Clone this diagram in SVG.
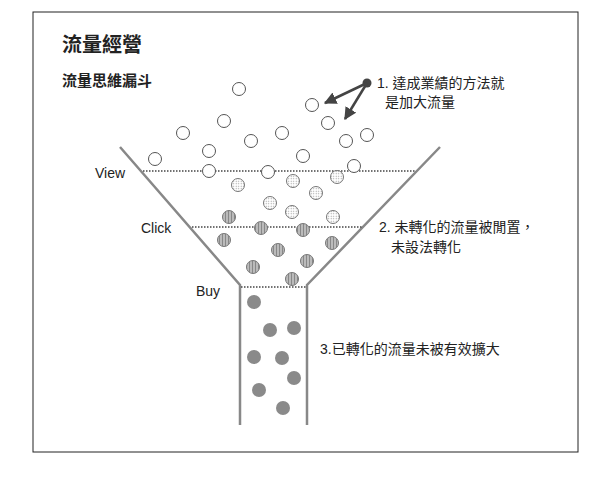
<svg xmlns="http://www.w3.org/2000/svg" width="612" height="486" viewBox="0 0 612 486">
<style>
text{font-family:"Liberation Sans","Noto Sans CJK TC",sans-serif;fill:#222}
.t{font-size:14px}
.f{fill:none;stroke:#888;stroke-width:2.5}
.d{stroke:#444;stroke-width:1.3;stroke-dasharray:1.5 1.5}
.w{fill:#fff;stroke:#555;stroke-width:1}
.p{fill:url(#dots);stroke:#777;stroke-width:1}
.s{fill:url(#str);stroke:#777;stroke-width:1}
.g{fill:#8a8a8a}
</style>
<defs>
<pattern id="dots" width="2.5" height="2.5" patternUnits="userSpaceOnUse"><rect width="2.5" height="2.5" fill="#fff"/><circle cx="1.2" cy="1.2" r="0.6" fill="#999"/></pattern>
<pattern id="str" width="3" height="3" patternUnits="userSpaceOnUse"><rect width="3" height="3" fill="#bbb"/><rect width="1" height="3" fill="#888"/></pattern>
<marker id="ar" viewBox="0 0 10 10" refX="9" refY="5" markerWidth="5" markerHeight="5" orient="auto"><path d="M0,0L10,5L0,10z" fill="#444"/></marker>
</defs>
<rect x="0" y="0" width="612" height="486" fill="#fff"/>
<rect x="33" y="12" width="545" height="440" fill="none" stroke="#222" stroke-width="1"/>
<text x="62" y="52" font-size="20" font-weight="bold">流量經營</text>
<text x="62" y="86" font-size="15" font-weight="bold">流量思維漏斗</text>
<g id="funnel">
<path class="f" d="M120,147L240,285L240,425M440,147L307,285L307,425"/>
<line class="d" x1="143" y1="171" x2="415" y2="171"/>
<line class="d" x1="192" y1="227" x2="362" y2="227"/>
<line class="d" x1="241" y1="287" x2="306" y2="287"/>
</g>
<g id="labels" class="t">
<text x="95" y="178">View</text>
<text x="141" y="233">Click</text>
<text x="196" y="296">Buy</text>
</g>
<g id="white">
<circle class="w" r="6.5" cx="239" cy="89"/><circle class="w" r="6.5" cx="312" cy="105"/><circle class="w" r="6.5" cx="224" cy="121"/><circle class="w" r="6.5" cx="183" cy="133"/><circle class="w" r="6.5" cx="328" cy="123"/><circle class="w" r="6.5" cx="282" cy="133"/><circle class="w" r="6.5" cx="251" cy="141"/><circle class="w" r="6.5" cx="367" cy="135"/><circle class="w" r="6.5" cx="346" cy="141"/><circle class="w" r="6.5" cx="209" cy="151"/><circle class="w" r="6.5" cx="303" cy="156"/><circle class="w" r="6.5" cx="155" cy="159"/><circle class="w" r="6.5" cx="209" cy="171"/><circle class="w" r="6.5" cx="268" cy="172"/><circle class="w" r="6.5" cx="354" cy="166"/>
</g>
<g id="dotted">
<circle class="p" r="6.5" cx="238" cy="185"/><circle class="p" r="6.5" cx="293" cy="181"/><circle class="p" r="6.5" cx="337" cy="177"/><circle class="p" r="6.5" cx="316" cy="193"/><circle class="p" r="6.5" cx="270" cy="203"/><circle class="p" r="6.5" cx="292" cy="212"/><circle class="p" r="6.5" cx="333" cy="217"/>
</g>
<g id="striped">
<circle class="s" r="6.5" cx="229" cy="217"/><circle class="s" r="6.5" cx="261" cy="228"/><circle class="s" r="6.5" cx="303" cy="230"/><circle class="s" r="6.5" cx="224" cy="240"/><circle class="s" r="6.5" cx="278" cy="250"/><circle class="s" r="6.5" cx="332" cy="243"/><circle class="s" r="6.5" cx="253" cy="267"/><circle class="s" r="6.5" cx="307" cy="261"/><circle class="s" r="6.5" cx="292" cy="279"/>
</g>
<g id="solid">
<circle class="g" r="7" cx="254" cy="302"/><circle class="g" r="7" cx="270" cy="330"/><circle class="g" r="7" cx="294" cy="328"/><circle class="g" r="7" cx="254" cy="357"/><circle class="g" r="7" cx="282" cy="358"/><circle class="g" r="7" cx="294" cy="378"/><circle class="g" r="7" cx="259" cy="390"/><circle class="g" r="7" cx="283" cy="408"/>
</g>
<g id="connectors">
<circle cx="367" cy="83" r="4.5" fill="#444"/>
<line x1="367" y1="83" x2="325" y2="103" stroke="#444" stroke-width="2.5" marker-end="url(#ar)"/>
<line x1="367" y1="83" x2="345" y2="119" stroke="#444" stroke-width="2.5" marker-end="url(#ar)"/>
</g>
<g id="notes" class="t">
<text x="377" y="88">1. 達成業績的方法就</text>
<text x="385" y="107">是加大流量</text>
<text x="379" y="232">2. 未轉化的流量被閒置，</text>
<text x="391" y="252">未設法轉化</text>
<text x="320" y="354">3.已轉化的流量未被有效擴大</text>
</g>
</svg>
